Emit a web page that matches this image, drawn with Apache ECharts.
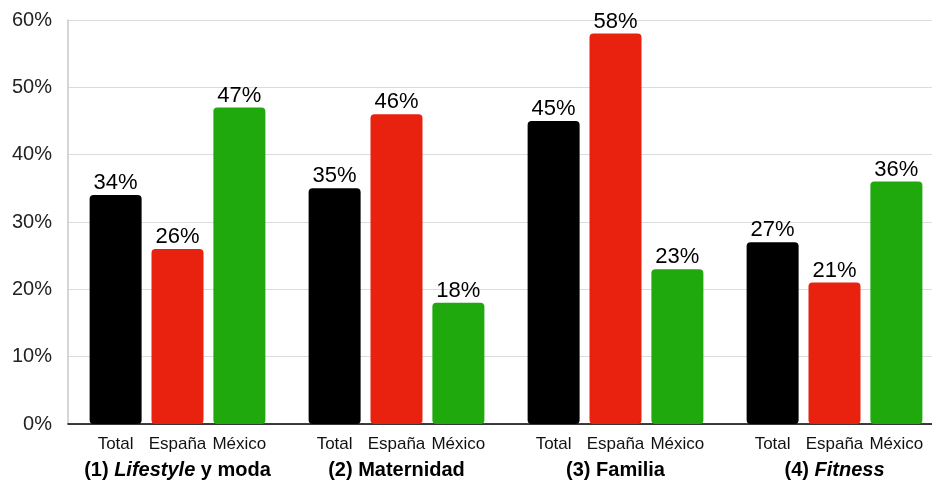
<!DOCTYPE html>
<html>
<head>
<meta charset="utf-8">
<script src="https://cdn.jsdelivr.net/npm/echarts@6/dist/echarts.min.js"></script>
<style>html,body{margin:0;padding:0;background:#fff;overflow:hidden;width:932px;height:482px}#c{width:944px;height:482px}</style>
</head>
<body>
<div id="c"></div>
<script>
const groups = ['(1) {i|Lifestyle} y moda', '(2) Maternidad', '(3) Familia', '(4) {i|Fitness}'];
const seriesNames = ['Total', 'España', 'México'];
const total = [34, 35, 45, 27];
const espana = [26, 46, 58, 21];
const mexico = [47, 18, 23, 36];
const yTicks = [0, 10, 20, 30, 40, 50, 60];

const colors = ['#000000', '#e8220f', '#1fa90c'];
const values = [total, espana, mexico];
const FONT = '"Liberation Sans", Arial, Helvetica, sans-serif';

const series = [];
values.forEach((vals, k) => {
  series.push({
    type: 'bar', stack: 's' + k, name: seriesNames[k] + '_lbl',
    data: vals.map(() => 0), barWidth: 52, barGap: '19%',
    itemStyle: { color: 'rgba(0,0,0,0)' }, silent: true,
    label: { show: true, position: 'bottom', distance: 12, formatter: seriesNames[k],
      fontFamily: FONT, fontSize: 17, color: '#111' }
  });
  series.push({
    type: 'bar', stack: 's' + k, name: seriesNames[k],
    data: vals, barWidth: 52, barGap: '19%',
    itemStyle: { color: colors[k], borderRadius: 4 },
    label: { show: true, position: 'top', distance: 1, formatter: '{c}%',
      fontFamily: FONT, fontSize: 22, color: '#000' }
  });
});

const chart = echarts.init(document.getElementById('c'), null, { renderer: 'canvas' });
chart.setOption({
  animation: false,
  backgroundColor: '#fff',
  grid: { left: 68, right: 0, top: 20, bottom: 58, containLabel: false },
  xAxis: {
    type: 'category', data: groups,
    axisLine: { show: true, lineStyle: { color: '#000', width: 1.5 } },
    axisTick: { show: false },
    axisLabel: {
      margin: 36, interval: 0, fontFamily: FONT, fontSize: 20, fontWeight: 'bold', color: '#000',
      rich: { i: { fontFamily: FONT, fontSize: 20, fontWeight: 'bold', fontStyle: 'italic', color: '#000' } }
    }
  },
  yAxis: {
    type: 'value', min: yTicks[0], max: yTicks[yTicks.length - 1], interval: 10,
    axisLine: { show: true, lineStyle: { color: '#c8c8c8', width: 1.5 } },
    axisTick: { show: false },
    axisLabel: { formatter: '{value}%', margin: 16, fontFamily: FONT, fontSize: 20, color: '#222' },
    splitLine: { lineStyle: { color: '#dcdcdc', width: 1 } }
  },
  series: series
});
</script>
</body>
</html>
